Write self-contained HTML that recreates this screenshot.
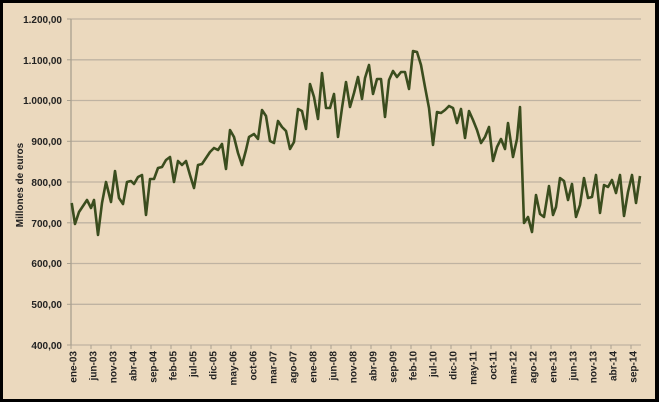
<!DOCTYPE html>
<html><head><meta charset="utf-8"><style>
body{margin:0;width:659px;height:402px;overflow:hidden;background:#fff}
</style></head><body>
<svg width="659" height="402" xmlns="http://www.w3.org/2000/svg" font-family="'Liberation Sans',sans-serif">
<rect x="0" y="0" width="659" height="402" fill="#000"/>
<rect x="3" y="3" width="652" height="396" fill="#EBD9BE"/>
<g stroke="#BFB3A2" stroke-width="1.3">
<line x1="71" y1="19" x2="641" y2="19"/>
<line x1="71" y1="59.8" x2="641" y2="59.8"/>
<line x1="71" y1="100.5" x2="641" y2="100.5"/>
<line x1="71" y1="141.3" x2="641" y2="141.3"/>
<line x1="71" y1="182" x2="641" y2="182"/>
<line x1="71" y1="222.8" x2="641" y2="222.8"/>
<line x1="71" y1="263.5" x2="641" y2="263.5"/>
<line x1="71" y1="304.3" x2="641" y2="304.3"/>
<line x1="71" y1="345" x2="641" y2="345"/>
</g>
<line x1="71" y1="19" x2="71" y2="345" stroke="#A8A08F" stroke-width="1.3"/>
<g stroke="#A8A08F" stroke-width="1">
<line x1="67" y1="19" x2="71" y2="19"/><line x1="67" y1="59.8" x2="71" y2="59.8"/><line x1="67" y1="100.5" x2="71" y2="100.5"/><line x1="67" y1="141.3" x2="71" y2="141.3"/><line x1="67" y1="182" x2="71" y2="182"/><line x1="67" y1="222.8" x2="71" y2="222.8"/><line x1="67" y1="263.5" x2="71" y2="263.5"/><line x1="67" y1="304.3" x2="71" y2="304.3"/><line x1="67" y1="345" x2="71" y2="345"/>
</g>
<g font-size="10" font-weight="bold" fill="#222" text-anchor="end">
<text x="62" y="23">1.200,00</text><text x="62" y="64">1.100,00</text><text x="62" y="104">1.000,00</text><text x="62" y="145">900,00</text><text x="62" y="186">800,00</text><text x="62" y="227">700,00</text><text x="62" y="267">600,00</text><text x="62" y="308">500,00</text><text x="62" y="349">400,00</text>
</g>
<text transform="translate(23,185) rotate(-90)" font-size="10" font-weight="bold" fill="#222" text-anchor="middle">Millones de euros</text>
<g id="xl" font-size="10" font-weight="bold" fill="#222" text-anchor="end"></g>
<g id="xt" stroke="#A8A08F" stroke-width="1"></g>
<polyline fill="none" stroke="#3B4D1E" stroke-width="2.6" stroke-linejoin="round" points="71.7,203 75,224 79,212 83,206 87,200 91,208 94,200 98,235 102,203 106,182 111,202 115,171 119,198 123,204 127,182 131,181 134,184 138,177 142,175 146,215 150,179 154,179 158,168 162,167 166,160 170,157 174,182 178,161 182,165 186,161 190,175 194,188 198,165 202,164 206,158 210,152 214,148 218,150 222,144 226,169 230,130 234,137 238,153 242,165 246,150 249,137 254,134 258,139 262,110 266,116 270,141 274,143 278,121 282,127 286,131 290,149 294,142 298,109 302,111 306,129 310,84 314,97 318,119 322,73 326,108 330,108 334,94 338,137 342,108 346,82 350,107 354,93 358,77 362,99 365,78 369,65 373,94 377,79 381,79 385,117 389,80 393,71 397,77 401,72 405,72 409,89 413,51 417,52 421,65 425,87 429,108 433,145 437,112 441,113 445,110 449,106 453,108 457,123 461,109 465,138 469,111 473,120 477,130 481,143 485,137 489,127 493,161 497,147 501,139 505,149 508,123 513,157 517,139 520,107 524,223 528,217 532,232 536,195 540,214 544,217 549,186 553,215 556,207 560,178 564,181 568,200 572,184 576,217 580,205 584,178 588,198 592,197 596,175 600,213 604,185 608,187 612,180 616,193 620,175 624,216 628,192 632,175 636,203 640,176"/>
</svg>
<script>
var labs="ene-03 jun-03 nov-03 abr-04 sep-04 feb-05 jul-05 dic-05 may-06 oct-06 mar-07 ago-07 ene-08 jun-08 nov-08 abr-09 sep-09 feb-10 jul-10 dic-10 may-11 oct-11 mar-12 ago-12 ene-13 jun-13 nov-13 abr-14 sep-14".split(" ");
var ns="http://www.w3.org/2000/svg",g=document.getElementById("xl"),t=document.getElementById("xt");
labs.forEach(function(s,i){var x=73+20*i;var e=document.createElementNS(ns,"text");e.setAttribute("transform","translate("+(x+3.5)+",351) rotate(-90)");e.textContent=s;g.appendChild(e);
var l=document.createElementNS(ns,"line");var tx=71+20*i;l.setAttribute("x1",tx);l.setAttribute("x2",tx);l.setAttribute("y1",345);l.setAttribute("y2",349);t.appendChild(l);});
</script>
</body></html>
